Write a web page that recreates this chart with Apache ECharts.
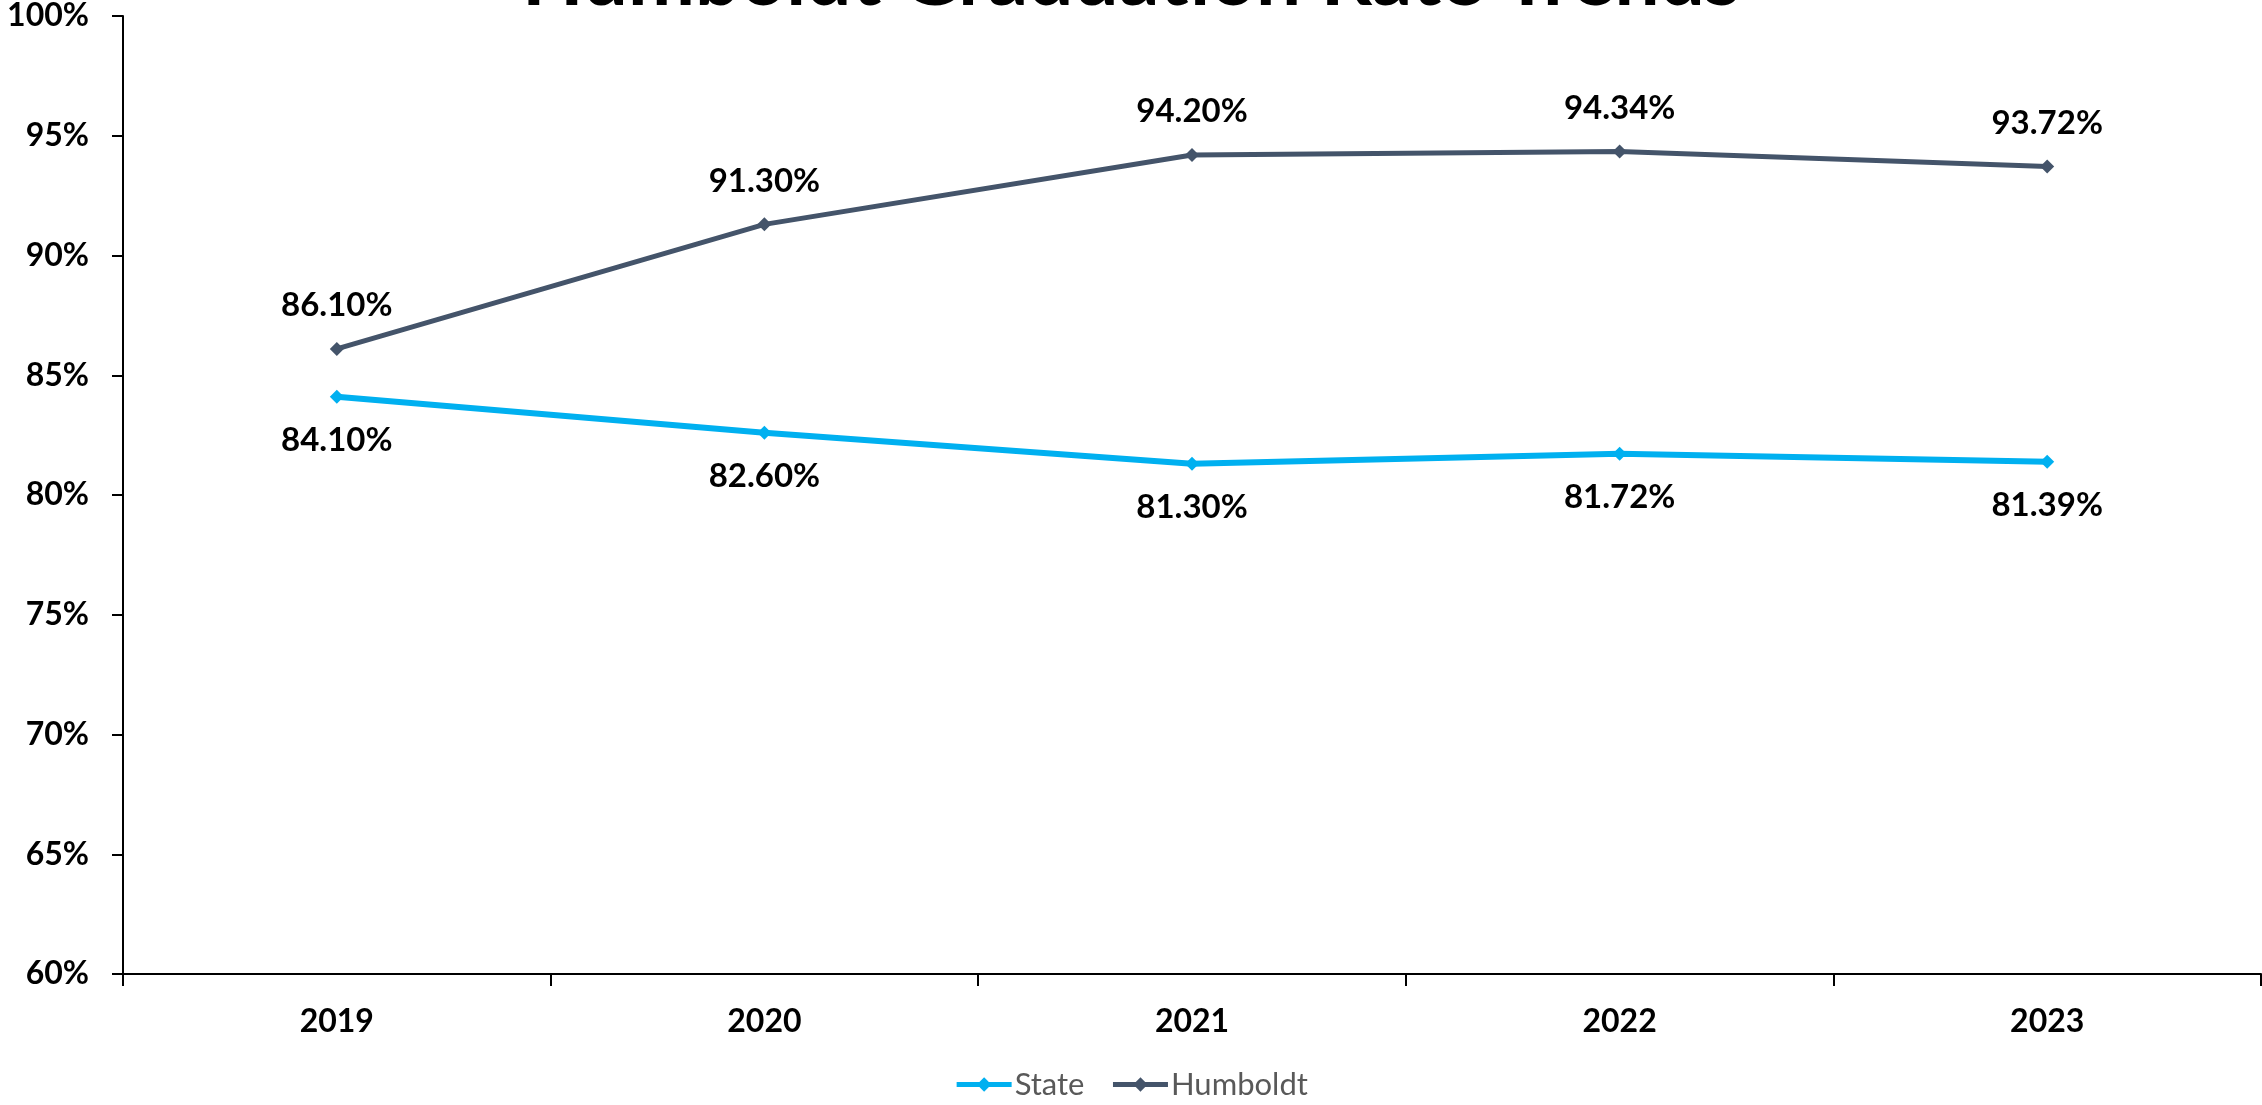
<!DOCTYPE html>
<html><head><meta charset="utf-8">
<script src="https://cdn.jsdelivr.net/npm/echarts@6/dist/echarts.min.js"></script>
<style>html,body{margin:0;padding:0;background:#fff}#c{width:2262px;height:1105px}</style>
</head><body><div id="c"></div>
<script>
const categories = ['2019','2020','2021','2022','2023'];
const stateValues = [84.10, 82.60, 81.30, 81.72, 81.39];
const humboldtValues = [86.10, 91.30, 94.20, 94.34, 93.72];
const yTicks = {min: 60, max: 100, interval: 5};
const titleText = 'Humboldt Graduation Rate Trends';

const FONT = 'Lato';
const chart = echarts.init(document.getElementById('c'));
chart.setOption({
  backgroundColor: '#fff',
  animation: false,
  title: {
    text: titleText, left: 'center', top: -66,
    textStyle: {fontFamily: FONT, fontWeight: 'bold', fontSize: 80, color: '#000'}
  },
  legend: {
    bottom: 0, left: 'center',
    itemWidth: 55, itemHeight: 18, itemGap: 26,
    lineStyle: {width: 5},
    textStyle: {fontFamily: FONT, fontSize: 31, color: '#595959', padding: [0, 0, 0, -2]},
    data: ['State', 'Humboldt']
  },
  grid: {left: 123, right: 1, top: 15, bottom: 131, containLabel: false},
  xAxis: {
    type: 'category', data: categories, boundaryGap: true,
    axisLine: {lineStyle: {color: '#000', width: 2}},
    axisTick: {show: true, length: 12, lineStyle: {color: '#000', width: 2}, alignWithLabel: false},
    axisLabel: {fontFamily: FONT, fontWeight: 'bold', fontSize: 32, color: '#000', margin: 32}
  },
  yAxis: {
    type: 'value', min: yTicks.min, max: yTicks.max, interval: yTicks.interval,
    axisLine: {show: true, lineStyle: {color: '#000', width: 2}},
    axisTick: {show: true, length: 11, lineStyle: {color: '#000', width: 2}},
    splitLine: {show: false},
    axisLabel: {fontFamily: FONT, fontWeight: 'bold', fontSize: 32, color: '#000', margin: 34,
      formatter: v => v + '%'}
  },
  series: [
    {
      name: 'State', type: 'line', data: stateValues,
      symbol: 'diamond', symbolSize: 14,
      lineStyle: {color: '#00B0F0', width: 6},
      itemStyle: {color: '#00B0F0'},
      label: {show: true, position: 'bottom', distance: 20, fontFamily: FONT, fontWeight: 'bold',
        fontSize: 33, color: '#000', formatter: p => p.value.toFixed(2) + '%'}
    },
    {
      name: 'Humboldt', type: 'line', data: humboldtValues,
      symbol: 'diamond', symbolSize: 14,
      lineStyle: {color: '#44546A', width: 5},
      itemStyle: {color: '#44546A'},
      label: {show: true, position: 'top', distance: 20, fontFamily: FONT, fontWeight: 'bold',
        fontSize: 33, color: '#000', formatter: p => p.value.toFixed(2) + '%'}
    }
  ]
});
</script></body></html>
